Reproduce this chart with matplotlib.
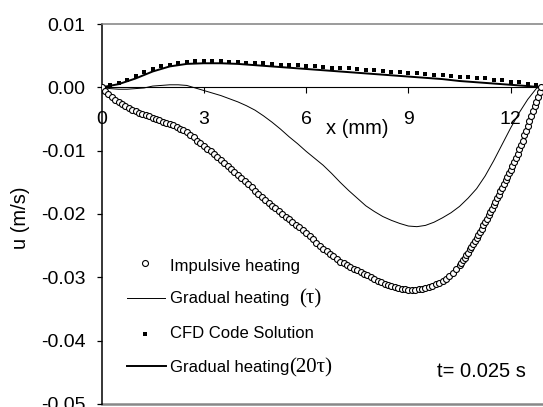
import matplotlib
matplotlib.use("Agg")
import matplotlib.pyplot as plt
from matplotlib import font_manager
from matplotlib.lines import Line2D

# Impulsive heating (open circles)
imp_x = [
    0.0, 0.1, 0.2, 0.3, 0.4, 0.5, 0.6, 0.7, 0.8, 0.9,
    1.0, 1.1, 1.2, 1.3, 1.4, 1.5, 1.6, 1.7, 1.8, 1.9,
    2.0, 2.1, 2.2, 2.3, 2.4, 2.5, 2.6, 2.7, 2.8, 2.9,
    3.0, 3.1, 3.2, 3.3, 3.4, 3.5, 3.6, 3.7, 3.8, 3.9,
    4.0, 4.1, 4.2, 4.3, 4.4, 4.5, 4.6, 4.7, 4.8, 4.9,
    5.0, 5.1, 5.2, 5.3, 5.4, 5.5, 5.6, 5.7, 5.8, 5.9,
    6.0, 6.1, 6.2, 6.3, 6.4, 6.5, 6.6, 6.7, 6.8, 6.9,
    7.0, 7.1, 7.2, 7.3, 7.4, 7.5, 7.6, 7.7, 7.8, 7.9,
    8.0, 8.1, 8.2, 8.3, 8.4, 8.5, 8.6, 8.7, 8.8, 8.9,
    9.0, 9.1, 9.2, 9.3, 9.4, 9.5, 9.6, 9.7, 9.8, 9.9,
    10.0, 10.1, 10.2, 10.3, 10.4, 10.5,
    10.55, 10.6, 10.65, 10.7, 10.75, 10.8, 10.85, 10.9, 10.95, 11.0,
    11.05, 11.1, 11.15, 11.2, 11.25, 11.3, 11.35, 11.4, 11.45, 11.5,
    11.55, 11.6, 11.65, 11.7, 11.75, 11.8, 11.85, 11.9, 11.95, 12.0,
    12.05, 12.1, 12.15, 12.2, 12.25, 12.3, 12.35, 12.4, 12.45, 12.5,
    12.55, 12.6, 12.65, 12.7, 12.75, 12.8, 12.85, 12.9,
]
imp_u = [
    0.0000, -0.0006, -0.0011, -0.0016, -0.0020, -0.0023, -0.0026, -0.0029, -0.0032, -0.0035,
    -0.0037, -0.0040, -0.0042, -0.0044, -0.0046, -0.0048, -0.0050, -0.0052, -0.0054, -0.0056,
    -0.0058, -0.0060, -0.0062, -0.0065, -0.0068, -0.0071, -0.0075, -0.0079, -0.0084, -0.0088,
    -0.0093, -0.0097, -0.0101, -0.0106, -0.0110, -0.0114, -0.0119, -0.0124, -0.0129, -0.0134,
    -0.0138, -0.0143, -0.0148, -0.0153, -0.0158, -0.0163, -0.0168, -0.0173, -0.0178, -0.0183,
    -0.0187, -0.0191, -0.0196, -0.0200, -0.0204, -0.0208, -0.0213, -0.0217, -0.0221, -0.0226,
    -0.0230, -0.0235, -0.0240, -0.0245, -0.0250, -0.0255, -0.0259, -0.0263, -0.0267, -0.0271,
    -0.0275, -0.0278, -0.0281, -0.0284, -0.0287, -0.0289, -0.0291, -0.0294, -0.0297, -0.0300,
    -0.0302, -0.0305, -0.0308, -0.0310, -0.0312, -0.0314, -0.0316, -0.0317, -0.0318, -0.0319,
    -0.0320, -0.0320, -0.0320, -0.0319, -0.0318, -0.0317, -0.0315, -0.0313, -0.0311, -0.0309,
    -0.0306, -0.0302, -0.0298, -0.0293, -0.0287, -0.0280,
    -0.0277, -0.0273, -0.0269, -0.0265, -0.0261, -0.0256, -0.0252, -0.0247, -0.0243, -0.0238,
    -0.0233, -0.0228, -0.0223, -0.0218, -0.0213, -0.0208, -0.0202, -0.0197, -0.0192, -0.0186,
    -0.0181, -0.0175, -0.0170, -0.0164, -0.0159, -0.0153, -0.0147, -0.0142, -0.0136, -0.0130,
    -0.0124, -0.0118, -0.0111, -0.0105, -0.0098, -0.0091, -0.0084, -0.0076, -0.0069, -0.0061,
    -0.0053, -0.0045, -0.0038, -0.0030, -0.0023, -0.0015, -0.0008, 0.0000,
]

# Gradual heating (tau), thin line
grad_x = [
    0.0, 0.25, 0.5, 0.75, 1.0, 1.25, 1.5, 1.75, 2.0, 2.25,
    2.5, 2.75, 3.0, 3.25, 3.5, 3.75, 4.0, 4.25, 4.5, 4.75,
    5.0, 5.25, 5.5, 5.75, 6.0, 6.25, 6.5, 6.75, 7.0, 7.25,
    7.5, 7.75, 8.0, 8.25, 8.5, 8.75, 9.0, 9.25, 9.5, 9.75,
    10.0, 10.25, 10.5, 10.75, 11.0, 11.25, 11.5, 11.75, 12.0, 12.25,
    12.5, 12.75, 12.9,
]
grad_u = [
    0.0000, -0.0002, -0.0003, -0.0003, -0.0002, -0.0001, 0.0002, 0.0003, 0.0004, 0.0004,
    0.0003, -0.0001, -0.0005, -0.0009, -0.0013, -0.0018, -0.0023, -0.0029, -0.0036, -0.0045,
    -0.0055, -0.0066, -0.0078, -0.0089, -0.0101, -0.0112, -0.0123, -0.0136, -0.0150, -0.0163,
    -0.0175, -0.0187, -0.0196, -0.0204, -0.0210, -0.0215, -0.0219, -0.0220, -0.0218, -0.0213,
    -0.0206, -0.0198, -0.0188, -0.0175, -0.0160, -0.0140, -0.0116, -0.0090, -0.0064, -0.0040,
    -0.0019, -0.0002, 0.0003,
]

# CFD code solution (small squares)
cfd_x = [
    0.0, 0.25, 0.5, 0.75, 1.0, 1.25, 1.5, 1.75, 2.0, 2.25,
    2.5, 2.75, 3.0, 3.25, 3.5, 3.75, 4.0, 4.25, 4.5, 4.75,
    5.0, 5.25, 5.5, 5.75, 6.0, 6.25, 6.5, 6.75, 7.0, 7.25,
    7.5, 7.75, 8.0, 8.25, 8.5, 8.75, 9.0, 9.25, 9.5, 9.75,
    10.0, 10.25, 10.5, 10.75, 11.0, 11.25, 11.5, 11.75, 12.0, 12.25,
    12.5, 12.75,
]
cfd_u = [
    0.0000, 0.0003, 0.0007, 0.0012, 0.0018, 0.0024, 0.0029, 0.0033, 0.0036, 0.0039,
    0.0040, 0.0041, 0.0041, 0.0041, 0.0041, 0.0040, 0.0040, 0.0039, 0.0039, 0.0038,
    0.0037, 0.0036, 0.0035, 0.0035, 0.0034, 0.0033, 0.0032, 0.0031, 0.0030, 0.0030,
    0.0029, 0.0028, 0.0027, 0.0026, 0.0025, 0.0024, 0.0023, 0.0022, 0.0021, 0.0020,
    0.0019, 0.0018, 0.0017, 0.0016, 0.0015, 0.0014, 0.0012, 0.0011, 0.0009, 0.0008,
    0.0006, 0.0004,
]

# Gradual heating (20 tau), thick line
grad20_x = [0.0, 0.5, 1.0, 1.5, 2.0, 2.5, 3.0, 3.5, 4.0, 4.5, 5.0, 5.5, 6.0, 6.5,
            7.0, 7.5, 8.0, 8.5, 9.0, 9.5, 10.0, 10.5, 11.0, 11.5, 12.0, 12.5, 12.9]
grad20_u = [0.0000, 0.0005, 0.0014, 0.0025, 0.0033, 0.0037, 0.0038, 0.0038, 0.0037,
            0.0035, 0.0033, 0.0031, 0.0029, 0.0027, 0.0025, 0.0023, 0.0021, 0.0019,
            0.0017, 0.0015, 0.0013, 0.0010, 0.0008, 0.0006, 0.0004, 0.0002, 0.0000]

x_ticks = [0, 3, 6, 9, 12]
y_ticks = [0.01, 0.0, -0.01, -0.02, -0.03, -0.04, -0.05]

W, H = 543, 407

names = {f.name for f in font_manager.fontManager.ttflist}
if "Liberation Sans Narrow" in names:
    leg_font, leg_size = "Liberation Sans Narrow", 13.4
else:
    leg_font, leg_size = "Liberation Sans", 12
sans = "Liberation Sans"
serif = ["Liberation Serif", "DejaVu Serif"]


def fx(px):
    return px / W


def fy(py):
    return 1 - py / H


fig = plt.figure(figsize=(W / 100, H / 100), dpi=100)
# axes runs past the right edge, like the cropped original
ax = fig.add_axes([fx(101.5), fy(404), 13.5 * 34.1 / W, 380 / H])
ax.set_xlim(0, 13.5)
ax.set_ylim(-0.05, 0.01)

ax.plot(grad_x, grad_u, color="black", lw=0.7, zorder=3)
ax.plot(grad20_x, grad20_u, color="black", lw=1.4, zorder=3)
ax.plot(cfd_x, cfd_u, ls="none", marker="s", ms=2.2, mfc="black", mec="black",
        mew=0, zorder=4)
ax.plot(imp_x, imp_u, ls="none", marker="o", ms=4.3, mfc="white", mec="black",
        mew=0.8, zorder=5)

# spines
ax.spines["right"].set_visible(False)
ax.spines["top"].set_color("#808080")
ax.spines["top"].set_linewidth(1.1)
ax.spines["left"].set_color("black")
ax.spines["left"].set_linewidth(1.1)
ax.spines["bottom"].set_position(("data", 0))
ax.spines["bottom"].set_color("black")
ax.spines["bottom"].set_linewidth(0.8)
ax.axhline(-0.05, color="#888888", lw=1.8, clip_on=False, zorder=1)

ax.set_xticks(x_ticks)
ax.set_xticklabels([str(t) for t in x_ticks])
ax.set_yticks(y_ticks)
ax.set_yticklabels(["%.2f" % t for t in y_ticks])
ax.tick_params(axis="x", direction="out", length=4.3, width=0.8, pad=13,
               labelsize=14)
ax.tick_params(axis="y", direction="out", length=3.6, width=0.9, pad=8,
               labelsize=14)
for lab in ax.get_xticklabels() + ax.get_yticklabels():
    lab.set_fontfamily(sans)

ax.text(7.49, -0.0065, "x (mm)", fontsize=14.5, family=sans,
        ha="center", va="center")
fig.text(fx(21), fy(218), "u (m/s)", fontsize=14.5, family=sans, rotation=90,
         ha="center", va="center")
fig.text(fx(437), fy(377), "t= 0.025 s", fontsize=14.5, family=sans,
         ha="left", va="baseline")

# legend, drawn by hand to keep the mixed fonts
fig.add_artist(Line2D([fx(145)], [fy(263)], ls="none", marker="o", ms=4.3,
                      mfc="white", mec="black", mew=0.8))
fig.add_artist(Line2D([fx(127), fx(165)], [fy(298), fy(298)], color="black", lw=0.7))
fig.add_artist(Line2D([fx(145)], [fy(334)], ls="none", marker="s", ms=2.2,
                      mfc="black", mew=0))
fig.add_artist(Line2D([fx(127), fx(166)], [fy(366), fy(366)], color="black", lw=1.4))

leg_rows = [("Impulsive heating", 270.5, None, 0),
            ("Gradual heating", 303.5, "(\u03c4)", 10),
            ("CFD Code Solution", 338, None, 0),
            ("Gradual heating", 372, "(20\u03c4)", 0)]
fig.canvas.draw()
renderer = fig.canvas.get_renderer()
for label, base, extra, gap in leg_rows:
    t = fig.text(fx(170), fy(base), label, fontsize=leg_size, family=leg_font,
                 ha="left", va="baseline")
    if extra:
        bb = t.get_window_extent(renderer)
        fig.text((bb.x1 + gap) / W, fy(base), extra, fontsize=15, family=serif,
                 ha="left", va="baseline")

fig.savefig("out.png", dpi=100)
